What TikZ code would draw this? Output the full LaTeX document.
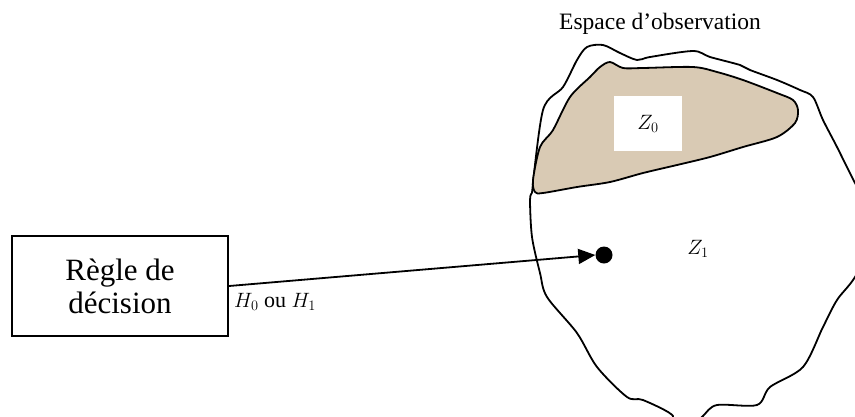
\documentclass[tikz,border=0pt]{standalone}
\usepackage{fontspec}
\setmainfont{Liberation Serif}
\usetikzlibrary{arrows.meta}
\definecolor{zonefill}{RGB}{217,202,180}
\tikzset{
  contour/.style={line width=1.8pt, black, line join=round},
  lbl/.style={inner sep=0pt, font=\fontsize{21}{23}\selectfont},
}
\begin{document}
\begin{tikzpicture}[x=1pt,y=-1pt]
\useasboundingbox (0,0) rectangle (855,416);
% outer observation space
\draw[contour] plot[smooth, tension=0.5] coordinates {
 (532,193) (543,110) (563,87) (577,60) (587,47) (603,45) (620,53) (637,60) (650,57)
 (693,51) (710,57) (740,65) (750,70) (777,80) (800,90) (813,97) (823,120) (837,147)
 (855,183) (880,230) (855,277) (837,300) (823,327) (803,367) (770,387) (757,405)
 (717,405) (703,416) (690,430)};
\draw[contour] plot[smooth, tension=0.5] coordinates {
 (660,430) (673,416) (643,400) (627,397) (597,367) (577,333) (547,297) (540,273)
 (532,237) (530,200) (532,193)};
% shaded region Z0
\draw[contour, fill=zonefill] plot[smooth cycle, tension=0.5] coordinates {
 (533,180) (540,147) (553,130) (570,97) (590,77) (600,67) (610,62) (623,68) (643,68)
 (693,67) (717,72) (743,80) (777,93) (793,100) (798,110) (795,123) (777,137) (743,147)
 (710,157) (677,165) (643,173) (610,182) (577,187) (543,193) (535,192)};
\node[fill=white, minimum width=68pt, minimum height=55pt, inner sep=0pt] (zbox) at (648,123.5) {};
\node[lbl] (z0) at (zbox.center) {$Z_0$};
\node[lbl] (z1) at (698,249) {$Z_1$};
% title
\node[inner sep=0pt, font=\fontsize{23.5}{25}\selectfont] (title) at (660,24) {Espace d’observation};
% decision box
\node[draw, line width=2.2pt, minimum width=216pt, minimum height=100pt, inner sep=0pt,
      align=center, font=\fontsize{31}{33}\selectfont] (rule) at (120,286) {Règle de\\décision};
\node[circle, fill=black, minimum size=17pt, inner sep=0pt] (pt) at (604,255) {};
\draw[line width=1.8pt, -{Triangle[length=17pt, width=15pt]}] (rule.east) -- (pt.west);
\node[inner sep=0pt, anchor=west, font=\fontsize{22}{24}\selectfont] (hyp) at (234,302) {$H_0$ ou $H_1$};
\end{tikzpicture}
\end{document}
